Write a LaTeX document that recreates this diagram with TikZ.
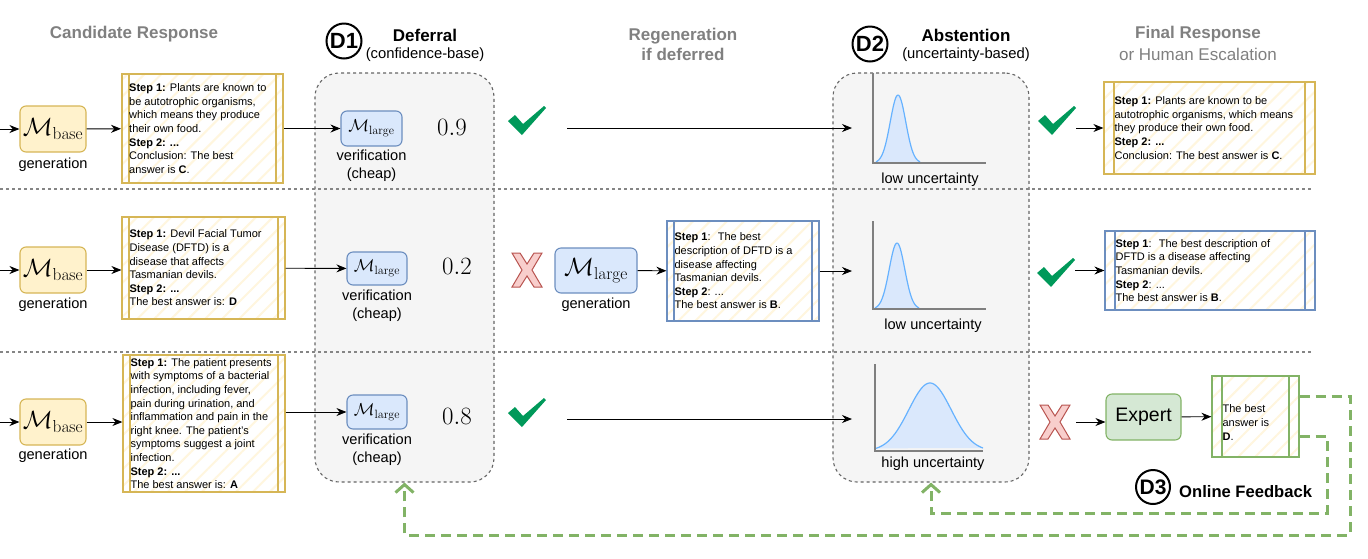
\documentclass[tikz,border=0pt]{standalone}
\usepackage[no-math]{fontspec}
\setmainfont{Liberation Sans}
\usepackage{amsmath}
\usetikzlibrary{positioning}
\usetikzlibrary{arrows.meta,patterns.meta}

\definecolor{yelfill}{HTML}{FFF2CC}
\definecolor{yelline}{HTML}{D6B656}
\definecolor{bluefill}{HTML}{DAE8FC}
\definecolor{blueline}{HTML}{6C8EBF}
\definecolor{grnfill}{HTML}{D5E8D4}
\definecolor{grnline}{HTML}{82B366}
\definecolor{redfill}{HTML}{F8CECC}
\definecolor{redline}{HTML}{B85450}
\definecolor{boxgray}{HTML}{F5F5F5}
\definecolor{dashgray}{HTML}{666666}
\definecolor{headgray}{HTML}{808080}
\definecolor{axgray}{HTML}{7F7F7F}
\definecolor{tickgreen}{HTML}{00995A}
\definecolor{curveline}{HTML}{66B2FF}
\definecolor{hatch}{HTML}{FFF6DE}

\tikzset{
  arr/.style={-{Stealth[length=10pt,width=8pt]},line width=0.9pt},
  fb/.style={draw=grnline,line width=3pt,dash pattern=on 10pt off 6pt,-{Straight Barb[length=8pt,width=18pt,line width=3pt]}},
  sepline/.style={draw=dashgray!80,line width=1.3pt,dash pattern=on 3pt off 3pt},
  container/.style={draw=dashgray,fill=boxgray,line width=1.1pt,dash pattern=on 3pt off 3pt,rounded corners=24pt},
  model/.style={draw=#1line,fill=#1fill,line width=1.1pt,rounded corners=6pt,inner sep=0pt},
  procbox/.style 2 args={draw=#1,line width=1.2pt,preaction={fill=white},
    pattern={Lines[angle=45,distance=12pt,line width=2pt]},pattern color=hatch,inner sep=0pt,
    path picture={\draw[#1,line width=1.2pt]
      ([xshift=#2]path picture bounding box.north west) -- ([xshift=#2]path picture bounding box.south west)
      ([xshift=-#2]path picture bounding box.north east) -- ([xshift=-#2]path picture bounding box.south east);}},
  txt/.style={align=left,inner sep=0pt,font=\fontsize{11}{13.6}\selectfont},
  lbl/.style={align=center,inner sep=0pt,font=\fontsize{14.6}{18}\selectfont},
  headtxt/.style={align=center,inner sep=0pt,font=\fontsize{17}{19.5}\selectfont\bfseries},
  subtxt/.style={align=center,inner sep=0pt,font=\fontsize{14.8}{18}\selectfont},
  score/.style={inner sep=0pt,font=\fontsize{25}{25}\selectfont},
  dlabel/.style={circle,draw,line width=2pt,minimum size=#1,inner sep=0pt,font=\fontsize{22}{22}\selectfont\bfseries},
  ticksign/.style={minimum width=38pt,minimum height=30pt,inner sep=0pt,
    path picture={\fill[tickgreen,shift={(path picture bounding box.center)}]
      (-19,0) -- (-12,-6) -- (-4,3) -- (17,-15) -- (19,-13) -- (-5,14) -- cycle;}},
  crosssign/.style={minimum width=32pt,minimum height=36pt,inner sep=0pt,
    path picture={\filldraw[fill=redfill,draw=redline,line width=1pt,shift={(path picture bounding box.center)}]
      (-15,-17) -- (-7,-17) -- (0,-6) -- (7,-17) -- (15,-17) -- (5,0) -- (15,17) -- (7,17)
      -- (0,6) -- (-7,17) -- (-15,17) -- (-5,0) -- cycle;}},
  axisline/.style={draw=axgray,line width=2.5pt},
  gaussline/.style={draw=curveline,line width=1.2pt},
}

\begin{document}
\begin{tikzpicture}[x=1pt,y=-1pt]
\useasboundingbox (0,0) rectangle (1368,558);
% decision panels and row separators
\node[container,minimum width=179pt,minimum height=409pt] (d1) at (404.5,277.5) {};
\node[container,minimum width=196pt,minimum height=409pt] (d2) at (931,277.5) {};
\draw[sepline] (0,189) -- (1313,189);
\draw[sepline] (0,352) -- (1313,352);

% column heads
\node[headtxt,text=headgray] (hcand) at (134,34) {Candidate Response};
\node[dlabel=35pt] (dl1) at (344,41) {D1};
\node[headtxt] (hdef) at (425,35) {Deferral};
\node[subtxt] (sdef) at (425,55) {(confidence-base)};
\node[headtxt,text=headgray] (hreg) at (683,44.5) {Regeneration\\if deferred};
\node[dlabel=35pt] (dl2) at (870,44) {D2};
\node[headtxt] (habs) at (966,35) {Abstention};
\node[subtxt] (sabs) at (966,55) {(uncertainty-based)};
\node[headtxt,text=headgray] (hfin) at (1198,34) {Final Response};
\node[subtxt,text=headgray,font=\fontsize{17}{19.5}\selectfont] (sfin) at (1198,54) {or Human Escalation};

% row 1
\coordinate (s1) at (0,129);
\node[model=yel,minimum width=66pt,minimum height=46pt,font=\fontsize{25}{25}\selectfont] (mb1) at (53,129) {$\mathcal{M}_{\mathrm{base}}$};
\node[lbl] (gen1) at (53,165) {generation};
\node[procbox={yelline}{7pt},minimum width=161pt,minimum height=109pt] (cand1) at (202.5,128.5) {};
\node[txt,anchor=west] (cand1t) at ([xshift=8pt]cand1.west) {\textbf{Step 1:} Plants are known to\\be autotrophic organisms,\\which means they produce\\their own food.\\\textbf{Step 2: ...}\\Conclusion: The best\\answer is \textbf{C}.};
\node[model=blue,minimum width=61pt,minimum height=35pt,font=\fontsize{17}{17}\selectfont] (ml1) at (371.5,128.5) {$\mathcal{M}_{\mathrm{large}}$};
\node[lbl] (ver1) at (371.5,166) {verification\\(cheap)};
\node[score] (sc1) at (452,127) {$0.9$};
\node[ticksign] (ok1) at (527,121) {};
\coordinate (in1) at (852,128);
\draw[gaussline,fill=bluefill] plot[domain=876:920,samples=50] (\x,{163-68*exp(-((\x-898)^2)/120)});
\draw[axisline] (873,73) -- (873,163) -- (986,163);
\node[lbl] (u1) at (930,180) {low uncertainty};
\node[ticksign] (ok4) at (1057,121) {};
\node[procbox={yelline}{10pt},minimum width=211pt,minimum height=92pt] (fin1) at (1209.5,128) {};
\node[txt,anchor=west] (fin1t) at ([xshift=11pt]fin1.west) {\textbf{Step 1:} Plants are known to be\\autotrophic organisms, which means\\they produce their own food.\\\textbf{Step 2: ...}\\Conclusion: The best answer is \textbf{C}.};
\draw[arr] (s1) -- (mb1);
\draw[arr] (mb1) -- (cand1);
\draw[arr] (cand1) -- (ml1);
\draw[arr,shorten <=21pt] (ok1.east |- in1) -- (in1);
\draw[arr] (ok4.east |- fin1) -- (fin1);

% row 2
\coordinate (s2) at (0,270);
\node[model=yel,minimum width=66pt,minimum height=46pt,font=\fontsize{25}{25}\selectfont] (mb2) at (53,270) {$\mathcal{M}_{\mathrm{base}}$};
\node[lbl] (gen2) at (53,305) {generation};
\node[procbox={yelline}{7pt},minimum width=163pt,minimum height=102pt] (cand2) at (203.5,268) {};
\node[txt,anchor=west] (cand2t) at ([xshift=8pt]cand2.west) {\textbf{Step 1:} Devil Facial Tumor\\Disease (DFTD) is a\\disease that affects\\Tasmanian devils.\\\textbf{Step 2: ...}\\The best answer is: \textbf{D}};
\node[model=blue,minimum width=60pt,minimum height=33pt,font=\fontsize{17}{17}\selectfont] (ml2) at (377,268.5) {$\mathcal{M}_{\mathrm{large}}$};
\node[lbl] (ver2) at (377,305.5) {verification\\(cheap)};
\node[score] (sc2) at (457,266) {$0.2$};
\node[crosssign] (no1) at (527,270) {};
\node[model=blue,minimum width=82pt,minimum height=45pt,font=\fontsize{24}{24}\selectfont] (mg) at (596,270.5) {$\mathcal{M}_{\mathrm{large}}$};
\node[lbl] (gen3) at (596,305) {generation};
\node[procbox={blueline}{7pt},minimum width=152pt,minimum height=100pt] (regen) at (743,271) {};
\node[txt,anchor=west] (regent) at ([xshift=8pt]regen.west) {\textbf{Step 1}:~ The best\\description of DFTD is a\\disease affecting\\Tasmanian devils.\\\textbf{Step 2}: ...\\The best answer is \textbf{B}.};
\coordinate (in2) at (852,271);
\draw[gaussline,fill=bluefill] plot[domain=875:919,samples=50] (\x,{309-66*exp(-((\x-897)^2)/120)});
\draw[axisline] (873,221) -- (873,309) -- (986,309);
\node[lbl] (u2) at (933,326) {low uncertainty};
\node[ticksign] (ok5) at (1056,273) {};
\node[procbox={blueline}{10pt},minimum width=210pt,minimum height=79pt] (fin2) at (1210,270.5) {};
\node[txt,anchor=west] (fin2t) at ([xshift=11pt]fin2.west) {\textbf{Step 1}:~ The best description of\\DFTD is a disease affecting\\Tasmanian devils.\\\textbf{Step 2}: ...\\The best answer is \textbf{B}.};
\draw[arr] (s2) -- (mb2);
\draw[arr] (mb2.east) -- (mb2.east -| cand2.west);
\draw[arr] (cand2) -- (ml2);
\draw[arr] (mg) -- (regen);
\draw[arr] (regen) -- (in2);
\draw[arr] (ok5.east |- fin2) -- (fin2);

% row 3
\coordinate (s3) at (0,422);
\node[model=yel,minimum width=66pt,minimum height=46pt,font=\fontsize{25}{25}\selectfont] (mb3) at (53,422) {$\mathcal{M}_{\mathrm{base}}$};
\node[lbl] (gen4) at (53,456) {generation};
\node[procbox={yelline}{7pt},minimum width=162pt,minimum height=137pt] (cand3) at (204,423.5) {};
\node[txt,anchor=west] (cand3t) at ([xshift=8pt]cand3.west) {\textbf{Step 1:} The patient presents\\with symptoms of a bacterial\\infection, including fever,\\pain during urination, and\\inflammation and pain in the\\right knee. The patient's\\symptoms suggest a joint\\infection.\\\textbf{Step 2: ...}\\The best answer is: \textbf{A}};
\node[model=blue,minimum width=60pt,minimum height=34pt,font=\fontsize{17}{17}\selectfont] (ml3) at (377,412) {$\mathcal{M}_{\mathrm{large}}$};
\node[lbl] (ver3) at (377,450) {verification\\(cheap)};
\node[score] (sc3) at (457,416) {$0.8$};
\node[ticksign] (ok3) at (527,413) {};
\coordinate (in3) at (852,419);
\draw[gaussline,fill=bluefill] plot[domain=876:983,samples=80] (\x,{451-68*exp(-((\x-930)^2)/900)});
\draw[axisline] (875,364) -- (875,451) -- (983,451);
\node[lbl] (u3) at (933,464) {high uncertainty};
\node[crosssign] (no2) at (1055,422) {};
\node[model=grn,minimum width=75pt,minimum height=46pt,font=\fontsize{19.5}{19.5}\selectfont] (expert) at (1143.5,417) {Expert};
\node[procbox={grnline}{10pt},minimum width=87pt,minimum height=81pt] (ans) at (1255.5,416.5) {};
\node[txt,anchor=west] (anst) at ([xshift=11pt,yshift=-6pt]ans.west) {The best\\answer is\\\textbf{D}.};
\draw[arr] (s3) -- (mb3);
\draw[arr] (mb3.east) -- (mb3.east -| cand3.west);
\draw[arr] (cand3.east |- ml3) -- (ml3);
\draw[arr,shorten <=21pt] (ok3.east |- in3) -- (in3);
\draw[arr,shorten <=5pt] (no2.east) -- (no2.east -| expert.west);
\draw[arr] (expert) -- (ans);

% online feedback
\node[dlabel=34pt,font=\fontsize{21}{21}\selectfont\bfseries] (dl3) at (1153,487) {D3};
\node[inner sep=0pt,font=\fontsize{16.6}{19}\selectfont\bfseries,anchor=west] (hfb) at (1179,492) {Online Feedback};
\coordinate (fba) at (1350,535);
\coordinate (fbb) at (1327,513);
\draw[fb] ([yshift=20pt]ans.east) -| (fba) -| (d1.south);
\draw[fb] ([yshift=-20pt]ans.east) -| (fbb) -| (d2.south);
\end{tikzpicture}
\end{document}
